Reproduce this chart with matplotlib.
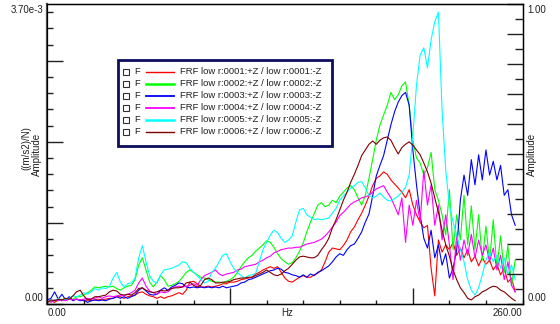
import numpy as np
import matplotlib.pyplot as plt
from matplotlib.patches import Rectangle
from matplotlib.ticker import MultipleLocator

plt.rcParams['font.family'] = ['Liberation Sans', 'DejaVu Sans']

# frequency grid in Hz, amplitudes below are in units of 1e-3 (m/s2)/N
freq = np.arange(0, 257, 2)
unit = 1e-3

frf_0001 = [0.02, 0.04, 0.02, 0.05, 0.04, 0.05, 0.06, 0.05, 0.06, 0.05,
            0.04, 0.05, 0.04, 0.05, 0.06, 0.05, 0.06, 0.07, 0.07, 0.09,
            0.09, 0.07, 0.09, 0.10, 0.11, 0.14, 0.15, 0.12, 0.10, 0.09,
            0.07, 0.09, 0.07, 0.09, 0.10, 0.12, 0.14, 0.12, 0.17, 0.27,
            0.28, 0.25, 0.21, 0.21, 0.22, 0.21, 0.22, 0.23, 0.25, 0.25,
            0.27, 0.27, 0.28, 0.30, 0.31, 0.32, 0.33, 0.37, 0.39, 0.42,
            0.44, 0.46, 0.44, 0.46, 0.39, 0.32, 0.28, 0.27, 0.30, 0.33,
            0.35, 0.33, 0.33, 0.36, 0.38, 0.42, 0.52, 0.64, 0.69, 0.68,
            0.67, 0.72, 0.79, 0.89, 0.95, 1.04, 1.12, 1.22, 1.33, 1.46,
            1.55, 1.58, 1.63, 1.60, 1.53, 1.48, 1.43, 1.38, 1.31, 1.41,
            1.22, 1.10, 1.01, 0.94, 0.97, 0.44, 0.10, 0.79, 0.64, 0.73,
            0.67, 0.76, 0.60, 0.69, 0.57, 0.67, 0.52, 0.59, 0.47, 0.57,
            0.49, 0.54, 0.42, 0.49, 0.36, 0.44, 0.27, 0.32, 0.15]

frf_0002 = [0.02, 0.04, 0.05, 0.04, 0.06, 0.05, 0.07, 0.06, 0.09, 0.09,
            0.11, 0.14, 0.17, 0.21, 0.20, 0.21, 0.22, 0.21, 0.22, 0.19,
            0.17, 0.20, 0.22, 0.23, 0.30, 0.48, 0.57, 0.42, 0.27, 0.21,
            0.27, 0.35, 0.30, 0.22, 0.23, 0.25, 0.28, 0.33, 0.39, 0.42,
            0.39, 0.36, 0.33, 0.32, 0.30, 0.28, 0.27, 0.27, 0.26, 0.28,
            0.30, 0.33, 0.39, 0.46, 0.52, 0.57, 0.60, 0.65, 0.69, 0.73,
            0.78, 0.76, 0.70, 0.62, 0.56, 0.52, 0.49, 0.51, 0.57, 0.65,
            0.75, 0.89, 1.01, 1.11, 1.22, 1.25, 1.20, 1.22, 1.28, 1.25,
            1.33, 1.38, 1.43, 1.46, 1.41, 1.31, 1.22, 1.34, 1.55, 1.78,
            2.02, 2.21, 2.33, 2.45, 2.61, 2.52, 2.58, 2.69, 2.74, 2.45,
            2.02, 1.80, 1.74, 1.59, 1.68, 1.87, 1.41, 1.28, 1.10, 0.85,
            1.41, 0.67, 1.10, 0.79, 1.34, 0.73, 1.21, 0.67, 1.10, 0.54,
            0.96, 0.52, 1.04, 0.44, 0.84, 0.39, 0.72, 0.23, 0.54]

frf_0003 = [0.05, 0.07, 0.15, 0.06, 0.12, 0.05, 0.09, 0.04, 0.06, 0.04,
            0.05, 0.02, 0.04, 0.05, 0.04, 0.05, 0.04, 0.06, 0.07, 0.09,
            0.07, 0.09, 0.07, 0.09, 0.11, 0.17, 0.20, 0.16, 0.12, 0.11,
            0.12, 0.17, 0.20, 0.17, 0.21, 0.23, 0.26, 0.25, 0.21, 0.20,
            0.21, 0.20, 0.21, 0.20, 0.21, 0.20, 0.21, 0.20, 0.22, 0.20,
            0.21, 0.22, 0.23, 0.26, 0.27, 0.30, 0.31, 0.33, 0.35, 0.37,
            0.39, 0.41, 0.42, 0.44, 0.43, 0.39, 0.38, 0.36, 0.35, 0.33,
            0.36, 0.33, 0.37, 0.35, 0.39, 0.41, 0.44, 0.47, 0.52, 0.58,
            0.62, 0.60, 0.67, 0.72, 0.74, 0.81, 0.89, 1.01, 1.11, 1.33,
            1.58, 1.71, 1.83, 2.02, 2.21, 2.37, 2.49, 2.57, 2.61, 2.45,
            1.90, 1.47, 1.10, 0.81, 0.69, 0.91, 0.57, 0.73, 0.48, 0.62,
            0.32, 0.44, 0.67, 1.28, 1.59, 1.34, 1.78, 1.47, 1.84, 1.53,
            1.90, 1.59, 1.76, 1.53, 1.71, 1.34, 1.41, 1.10, 0.97]

frf_0004 = [0.04, 0.02, 0.05, 0.04, 0.05, 0.04, 0.06, 0.05, 0.06, 0.05,
            0.06, 0.07, 0.06, 0.07, 0.09, 0.07, 0.09, 0.10, 0.09, 0.10,
            0.11, 0.10, 0.12, 0.14, 0.17, 0.26, 0.32, 0.22, 0.16, 0.14,
            0.12, 0.15, 0.14, 0.15, 0.19, 0.21, 0.22, 0.21, 0.22, 0.23,
            0.25, 0.23, 0.30, 0.35, 0.37, 0.39, 0.42, 0.37, 0.35, 0.37,
            0.38, 0.39, 0.42, 0.43, 0.46, 0.47, 0.48, 0.49, 0.52, 0.54,
            0.57, 0.59, 0.63, 0.65, 0.67, 0.68, 0.69, 0.69, 0.70, 0.70,
            0.72, 0.74, 0.75, 0.76, 0.78, 0.80, 0.84, 0.89, 0.95, 1.01,
            1.09, 1.13, 1.18, 1.23, 1.26, 1.28, 1.31, 1.32, 1.34, 1.38,
            1.42, 1.44, 1.46, 1.38, 1.31, 1.21, 1.10, 1.31, 0.76, 1.22,
            0.97, 1.28, 1.01, 1.65, 1.22, 1.47, 0.97, 1.22, 0.79, 1.10,
            0.73, 0.30, 0.86, 0.54, 0.79, 0.60, 0.86, 0.57, 0.79, 0.60,
            0.73, 0.52, 0.69, 0.42, 0.60, 0.30, 0.52, 0.23, 0.15]

frf_0005 = [0.02, 0.05, 0.04, 0.07, 0.05, 0.06, 0.07, 0.10, 0.09, 0.11,
            0.14, 0.12, 0.15, 0.19, 0.17, 0.20, 0.19, 0.22, 0.32, 0.39,
            0.27, 0.21, 0.25, 0.26, 0.32, 0.57, 0.72, 0.52, 0.35, 0.28,
            0.26, 0.36, 0.42, 0.43, 0.44, 0.46, 0.48, 0.52, 0.51, 0.44,
            0.39, 0.35, 0.30, 0.26, 0.28, 0.39, 0.44, 0.52, 0.60, 0.62,
            0.52, 0.44, 0.39, 0.35, 0.32, 0.35, 0.36, 0.38, 0.52, 0.67,
            0.76, 0.85, 0.91, 0.88, 0.81, 0.76, 0.79, 0.84, 1.01, 1.16,
            1.18, 1.10, 1.07, 1.04, 1.05, 1.04, 1.05, 1.06, 1.12, 1.18,
            1.28, 1.33, 1.38, 1.43, 1.46, 1.50, 1.51, 1.43, 1.34, 1.31,
            1.33, 1.37, 1.32, 1.28, 1.27, 1.30, 1.33, 1.38, 1.44, 1.59,
            2.08, 2.70, 3.07, 3.16, 2.91, 3.26, 3.48, 3.60, 2.39, 1.65,
            1.22, 1.01, 0.85, 0.67, 0.52, 0.30, 0.17, 0.11, 0.20, 0.36,
            0.54, 0.64, 0.52, 0.60, 0.44, 0.57, 0.36, 0.48, 0.30]

frf_0006 = [0.02, 0.05, 0.04, 0.06, 0.05, 0.07, 0.06, 0.10, 0.15, 0.17,
            0.10, 0.05, 0.06, 0.09, 0.09, 0.10, 0.11, 0.15, 0.17, 0.16,
            0.12, 0.11, 0.12, 0.11, 0.14, 0.19, 0.20, 0.17, 0.15, 0.14,
            0.15, 0.17, 0.16, 0.17, 0.19, 0.20, 0.20, 0.21, 0.26, 0.27,
            0.23, 0.21, 0.23, 0.30, 0.32, 0.30, 0.26, 0.26, 0.27, 0.27,
            0.28, 0.30, 0.31, 0.32, 0.32, 0.33, 0.33, 0.35, 0.37, 0.39,
            0.42, 0.39, 0.36, 0.35, 0.37, 0.41, 0.44, 0.49, 0.54, 0.58,
            0.59, 0.58, 0.57, 0.57, 0.60, 0.67, 0.73, 0.81, 0.94, 1.04,
            1.16, 1.28, 1.38, 1.50, 1.60, 1.71, 1.83, 1.90, 1.97, 2.01,
            1.97, 2.02, 2.05, 2.06, 2.02, 1.93, 1.85, 1.93, 1.97, 2.00,
            1.96, 1.90, 1.84, 1.74, 1.63, 1.49, 1.31, 1.13, 0.91, 0.73,
            0.59, 0.42, 0.30, 0.20, 0.14, 0.07, 0.05, 0.09, 0.11, 0.15,
            0.17, 0.20, 0.22, 0.21, 0.17, 0.15, 0.11, 0.07, 0.04]

series = [frf_0001, frf_0002, frf_0003, frf_0004, frf_0005, frf_0006]
points = ['0001', '0002', '0003', '0004', '0005', '0006']
colors = ['#ff0000', '#00ff00', '#0000ff', '#ff00ff', '#00ffff', '#800000']

W, H = 560, 324
fig = plt.figure(figsize=(W / 100, H / 100), dpi=100)
left, right, bottom, top = 47.3, 522.5, 304, 4
ax = fig.add_axes([left / W, 1 - bottom / H, (right - left) / W, (bottom - top) / H])

for vals, c in zip(series, colors):
    ax.plot(freq, np.array(vals) * unit, color=c, lw=0.8)

ax.set_xlim(0, 260)
ax.set_ylim(0, 3.7e-3)
ax.xaxis.set_major_locator(MultipleLocator(100))
ax.xaxis.set_minor_locator(MultipleLocator(20))
ax.yaxis.set_major_locator(MultipleLocator(1e-3))
ax.yaxis.set_minor_locator(MultipleLocator(0.2e-3))
ax.tick_params(which='both', direction='in', labelbottom=False, labelleft=False,
               top=False, right=False, color='#202020', width=1)
ax.tick_params(which='major', length=11.5)
ax.tick_params(axis='y', which='minor', length=4.3)
ax.tick_params(axis='x', which='minor', length=2.6)
for s in ax.spines.values():
    s.set_linewidth(1.0)
ax.spines['left'].set_color('#505050')
ax.spines['left'].set_linewidth(1.6)

# normalised amplitude on the right
ax2 = ax.twinx()
ax2.set_ylim(0, 1)
ax2.yaxis.set_major_locator(MultipleLocator(0.1))
ax2.yaxis.set_minor_locator(MultipleLocator(0.05))
ax2.tick_params(which='both', direction='in', labelright=False, left=False,
                color='#202020', width=1)
ax2.tick_params(which='major', length=11.5)
ax2.tick_params(which='minor', length=5.8)

fs = 7
tc = '#202020'
ax.text(0, -0.03, '0.00', transform=ax.transAxes, ha='left', va='center', fontsize=fs, color=tc)
ax.text(0.505, -0.03, 'Hz', transform=ax.transAxes, ha='center', va='center', fontsize=fs, color=tc)
ax.text(1, -0.03, '260.00', transform=ax.transAxes, ha='right', va='center', fontsize=fs, color=tc)
ax.text(-0.009, 0.02, '0.00', transform=ax.transAxes, ha='right', va='center', fontsize=fs, color=tc)
ax.text(-0.009, 0.98, '3.70e-3', transform=ax.transAxes, ha='right', va='center', fontsize=fs, color=tc)
ax.text(1.01, 0.02, '0.00', transform=ax.transAxes, ha='left', va='center', fontsize=fs, color=tc)
ax.text(1.01, 0.98, '1.00', transform=ax.transAxes, ha='left', va='center', fontsize=fs, color=tc)
ax.text(-0.043, 0.52, '((m/s2)/N)', transform=ax.transAxes, rotation=90,
        ha='center', va='center', fontsize=fs, color=tc)
ax.text(-0.021, 0.5, 'Amplitude', transform=ax.transAxes, rotation=90,
        ha='center', va='center', fontsize=fs, color=tc)
ax.text(1.021, 0.5, 'Amplitude', transform=ax.transAxes, rotation=90,
        ha='center', va='center', fontsize=fs, color=tc)

# legend box drawn in pixel space
lg = fig.add_axes([0, 0, 1, 1])
lg.set_xlim(0, W)
lg.set_ylim(H, 0)
lg.axis('off')
lg.add_patch(Rectangle((117.5, 59.5), 214, 86, facecolor='white',
                       edgecolor='#0d0d5e', lw=2.0))
lw_key = [1.0, 1.8, 1.3, 1.3, 1.8, 1.0]
for i, (p, c) in enumerate(zip(points, colors)):
    y = 71.7 + 12.05 * i
    lg.add_patch(Rectangle((123, y - 3), 6, 6, facecolor='none',
                           edgecolor='#303030', lw=0.8))
    lg.text(134, y, 'F', ha='left', va='center', fontsize=6.8, color=tc)
    lg.plot([146, 174], [y, y], color=c, lw=lw_key[i])
    lg.text(180, y, f'FRF low r:{p}:+Z / low r:{p}:-Z', ha='left', va='center',
            fontsize=6.8, color=tc)

fig.savefig('out.png', dpi=100)
